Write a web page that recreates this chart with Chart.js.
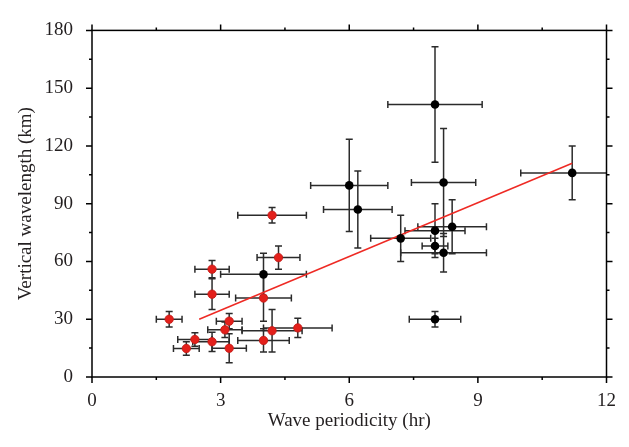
<!DOCTYPE html>
<html>
<head>
<meta charset="utf-8">
<script src="https://cdn.jsdelivr.net/npm/chart.js@4.4.0/dist/chart.umd.min.js"></script>
<style>
  html, body { margin: 0; padding: 0; background: #fff; }
  #wrap { width: 629px; height: 447px; }
</style>
</head>
<body>
<div id="wrap"><canvas id="scatter-chart"></canvas></div>
<script>
// black points (x = hr, y = km), x error bounds and y error
const blackX = [8.0, 8.2, 6.0, 6.2, 11.2, 7.2, 8.0, 8.4, 8.0, 8.2, 8.0, 4.0];
const blackY = [141.5, 101, 99.5, 87, 106, 72, 76, 78, 68, 64.5, 30, 53.3];
const blackXLow = [6.9, 7.45, 5.1, 5.4, 10.0, 6.5, 7.3, 7.6, 7.7, 7.2, 7.4, 3.0];
const blackXHigh = [9.1, 8.95, 6.9, 7.0, 12.4, 7.9, 8.7, 9.2, 8.3, 9.2, 8.6, 5.0];
const blackYErr = [30, 28, 24, 20, 14, 12, 14, 14, 4, 10, 4, 11];

// red points
const redX = [4.2, 4.35, 2.8, 2.8, 4.0, 1.8, 3.2, 3.1, 4.2, 4.8, 2.4, 2.8, 2.2, 3.2, 4.0];
const redY = [84, 62, 56, 43, 41, 30, 29, 24.5, 24, 25.5, 19.5, 18.3, 14.8, 14.9, 19];
const redXLow = [3.4, 3.85, 2.4, 2.4, 3.35, 1.5, 2.9, 2.7, 3.5, 4.0, 2.0, 2.35, 1.9, 2.8, 3.4];
const redXHigh = [5.0, 4.85, 3.2, 3.2, 4.65, 2.1, 3.5, 3.5, 4.9, 5.6, 2.8, 3.2, 2.5, 3.6, 4.6];
const redYErr = [4, 6, 4.5, 8, 12, 4, 4, 4, 11, 5, 3.5, 5, 3.5, 7.5, 6];

// fitted line
const fitX = [2.5, 11.2];
const fitY = [30, 111];

// axis ticks
const xTicks = [0, 3, 6, 9, 12];
const yTicks = [0, 30, 60, 90, 120, 150, 180];

const serif = "'Liberation Serif', 'DejaVu Serif', serif";
const inkColor = '#231f20';

function toPoints(xs, ys) {
  return xs.map(function(x, i) { return { x: x, y: ys[i] }; });
}

// error bars, drawn under the markers
const errorBars = {
  id: 'errorBars',
  beforeDatasetsDraw: function(chart) {
    const ctx = chart.ctx;
    const xs = chart.scales.x;
    const ys = chart.scales.y;
    const a = chart.chartArea;
    const cap = 3.5;
    ctx.save();
    ctx.beginPath();
    ctx.rect(a.left, a.top - 5, a.right - a.left, a.bottom - a.top + 10);
    ctx.clip();
    ctx.strokeStyle = '#2b2b2b';
    ctx.lineWidth = 1.5;
    function drawSet(X, Y, lo, hi, ye) {
      for (let i = 0; i < X.length; i++) {
        const px = xs.getPixelForValue(X[i]);
        const py = ys.getPixelForValue(Y[i]);
        const x1 = xs.getPixelForValue(lo[i]);
        const x2 = xs.getPixelForValue(hi[i]);
        const y1 = ys.getPixelForValue(Y[i] + ye[i]);
        const y2 = ys.getPixelForValue(Y[i] - ye[i]);
        ctx.beginPath();
        ctx.moveTo(x1, py); ctx.lineTo(x2, py);
        ctx.moveTo(x1, py - cap); ctx.lineTo(x1, py + cap);
        ctx.moveTo(x2, py - cap); ctx.lineTo(x2, py + cap);
        ctx.moveTo(px, y1); ctx.lineTo(px, y2);
        ctx.moveTo(px - cap, y1); ctx.lineTo(px + cap, y1);
        ctx.moveTo(px - cap, y2); ctx.lineTo(px + cap, y2);
        ctx.stroke();
      }
    }
    drawSet(blackX, blackY, blackXLow, blackXHigh, blackYErr);
    drawSet(redX, redY, redXLow, redXHigh, redYErr);
    ctx.restore();
  }
};

// frame box with outward major and minor ticks on all sides
const frameBox = {
  id: 'frameBox',
  afterDraw: function(chart) {
    const ctx = chart.ctx;
    const xs = chart.scales.x;
    const ys = chart.scales.y;
    const a = chart.chartArea;
    ctx.save();
    ctx.strokeStyle = '#000';
    ctx.lineWidth = 1.5;
    ctx.strokeRect(a.left, a.top, a.right - a.left, a.bottom - a.top);
    ctx.beginPath();
    for (let v = 0; v <= 12.001; v += 1.5) {
      const p = xs.getPixelForValue(v);
      const len = (v % 3 === 0) ? 6 : 3;
      ctx.moveTo(p, a.bottom); ctx.lineTo(p, a.bottom + len);
      ctx.moveTo(p, a.top); ctx.lineTo(p, a.top - len);
    }
    for (let v = 0; v <= 180.001; v += 15) {
      const p = ys.getPixelForValue(v);
      const len = (v % 30 === 0) ? 6 : 3;
      ctx.moveTo(a.left, p); ctx.lineTo(a.left - len, p);
      ctx.moveTo(a.right, p); ctx.lineTo(a.right + len, p);
    }
    ctx.stroke();
    ctx.restore();
  }
};

const data = {
  datasets: [
    {
      type: 'line',
      label: 'fit',
      data: toPoints(fitX, fitY),
      borderColor: '#ee2a24',
      borderWidth: 1.5,
      pointRadius: 0,
      fill: false,
      order: 3
    },
    {
      label: 'black',
      data: toPoints(blackX, blackY),
      backgroundColor: '#000',
      borderColor: '#000',
      borderWidth: 0,
      pointRadius: 4.3,
      order: 2
    },
    {
      label: 'red',
      data: toPoints(redX, redY),
      backgroundColor: '#e3201b',
      borderColor: '#c01a16',
      borderWidth: 0.8,
      pointRadius: 4.2,
      order: 1
    }
  ]
};

const config = {
  type: 'scatter',
  data: data,
  options: {
    responsive: true,
    maintainAspectRatio: false,
    animation: false,
    devicePixelRatio: 1,
    layout: { padding: { top: 15, right: 20, left: 0, bottom: 0 } },
    plugins: {
      legend: { display: false },
      tooltip: { enabled: false }
    },
    scales: {
      x: {
        type: 'linear',
        min: 0,
        max: 12,
        afterBuildTicks: function(scale) {
          scale.ticks = xTicks.map(function(v) { return { value: v }; });
        },
        afterFit: function(scale) { scale.height = 70; },
        grid: { display: false, drawTicks: false },
        border: { display: false },
        ticks: { color: inkColor, padding: 13, font: { family: serif, size: 19 } },
        title: {
          display: true,
          text: 'Wave periodicity (hr)',
          color: inkColor,
          font: { family: serif, size: 19 },
          padding: { top: 0, bottom: 15 }
        }
      },
      y: {
        type: 'linear',
        min: 0,
        max: 180,
        afterBuildTicks: function(scale) {
          scale.ticks = yTicks.map(function(v) { return { value: v }; });
        },
        afterFit: function(scale) { scale.width = 92; },
        grid: { display: false, drawTicks: false },
        border: { display: false },
        ticks: { color: inkColor, padding: 19, font: { family: serif, size: 19 } },
        title: {
          display: true,
          text: 'Vertical wavelength (km)',
          color: inkColor,
          font: { family: serif, size: 19 },
          padding: { top: 15, bottom: 0 }
        }
      }
    }
  },
  plugins: [errorBars, frameBox]
};

var chart = new Chart(document.getElementById('scatter-chart'), config);
</script>
</body>
</html>
